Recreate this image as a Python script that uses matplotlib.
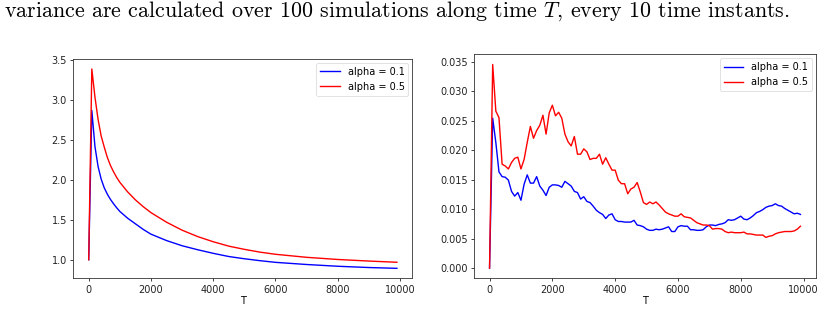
import numpy as np
import matplotlib
matplotlib.use("Agg")
import matplotlib.pyplot as plt

plt.rcParams['mathtext.fontset'] = 'cm'

# ---- Left panel (mean) ----
T_left = [0, 100, 200, 300, 400, 500, 600, 700, 800, 900, 1000, 1250, 1500, 1750,
          2000, 2500, 3000, 3500, 4000, 4500, 5000, 5500, 6000, 7000, 8000, 9000, 9900]
mean_a01 = [1.0, 2.87, 2.42, 2.17, 2.01, 1.90, 1.82, 1.755, 1.70, 1.65, 1.605, 1.52,
            1.45, 1.38, 1.32, 1.24, 1.175, 1.125, 1.08, 1.04, 1.012, 0.988, 0.967,
            0.94, 0.918, 0.902, 0.892]
mean_a05 = [1.0, 3.39, 3.04, 2.76, 2.55, 2.41, 2.28, 2.18, 2.10, 2.03, 1.97, 1.85,
            1.75, 1.665, 1.59, 1.47, 1.37, 1.29, 1.225, 1.17, 1.13, 1.095, 1.068,
            1.03, 1.003, 0.983, 0.968]

# ---- Right panel (variance) ----
T_right = list(range(0, 10000, 100))
var_a01 = [0.0, 0.0254, 0.0213, 0.0163, 0.0155, 0.0154, 0.0149, 0.0130, 0.0122, 0.0128,
           0.0115, 0.0142, 0.0158, 0.0144, 0.0144, 0.0155, 0.0139, 0.0132, 0.0123, 0.0137,
           0.0141, 0.0141, 0.0140, 0.0137, 0.0147, 0.0143, 0.0139, 0.0130, 0.0128, 0.0117,
           0.0121, 0.0113, 0.0111, 0.0105, 0.0098, 0.0094, 0.0091, 0.0084, 0.0090, 0.0092,
           0.0082, 0.0079, 0.0079, 0.0078, 0.0078, 0.0078, 0.0081, 0.0073, 0.0072, 0.0070,
           0.0066, 0.0064, 0.0064, 0.0066, 0.0065, 0.0066, 0.0068, 0.0070, 0.0062, 0.0062,
           0.0070, 0.0072, 0.0071, 0.0071, 0.0065, 0.0065, 0.0064, 0.0064, 0.0065, 0.0070,
           0.0073, 0.0073, 0.0072, 0.0074, 0.0075, 0.0077, 0.0082, 0.0081, 0.0082, 0.0085,
           0.0088, 0.0083, 0.0082, 0.0085, 0.0089, 0.0094, 0.0096, 0.0099, 0.0103, 0.0105,
           0.0106, 0.0109, 0.0106, 0.0105, 0.0101, 0.0098, 0.0095, 0.0092, 0.0093, 0.0091]
var_a05 = [0.0, 0.0345, 0.0266, 0.0255, 0.0176, 0.0173, 0.0168, 0.0179, 0.0186, 0.0188,
           0.0168, 0.0184, 0.0213, 0.0240, 0.0220, 0.0233, 0.0242, 0.0259, 0.0227, 0.0263,
           0.0276, 0.0258, 0.0264, 0.0254, 0.0227, 0.0214, 0.0207, 0.0223, 0.0193, 0.0193,
           0.0202, 0.0197, 0.0184, 0.0186, 0.0186, 0.0193, 0.0176, 0.0187, 0.0176, 0.0166,
           0.0166, 0.0149, 0.0143, 0.0143, 0.0126, 0.0134, 0.0137, 0.0145, 0.0129, 0.0111,
           0.0108, 0.0112, 0.0109, 0.0112, 0.0107, 0.0101, 0.0095, 0.0092, 0.0090, 0.0088,
           0.0088, 0.0092, 0.0087, 0.0086, 0.0085, 0.0081, 0.0077, 0.0075, 0.0073, 0.0073,
           0.0072, 0.0066, 0.0067, 0.0067, 0.0066, 0.0062, 0.0060, 0.0061, 0.0060, 0.0060,
           0.0060, 0.0061, 0.0058, 0.0058, 0.0057, 0.0056, 0.0056, 0.0056, 0.0052, 0.0054,
           0.0055, 0.0058, 0.0060, 0.0061, 0.0062, 0.0062, 0.0062, 0.0063, 0.0066, 0.0071]

labels = ["alpha = 0.1", "alpha = 0.5"]
xlabel = "T"
caption = r"variance are calculated over 100 simulations along time $T$, every 10 time instants."

W, H = 826, 314
fig = plt.figure(figsize=(W / 100, H / 100), dpi=100)

def rect(l, r, t, b):
    return [l / W, 1 - b / H, (r - l) / W, (b - t) / H]

fs = 7.0
ax1 = fig.add_axes(rect(73.3, 412.3, 59, 278.3))
ax2 = fig.add_axes(rect(474, 816, 54.3, 278.3))

ax1.plot(T_left, mean_a01, color='blue', lw=1.0, label=labels[0])
ax1.plot(T_left, mean_a05, color='red', lw=1.0, label=labels[1])
ax2.plot(T_right, var_a01, color='blue', lw=1.0, label=labels[0])
ax2.plot(T_right, var_a05, color='red', lw=1.0, label=labels[1])

ax1.set_yticks([1.0, 1.5, 2.0, 2.5, 3.0, 3.5])
ax2.set_yticks([0.0, 0.005, 0.01, 0.015, 0.02, 0.025, 0.03, 0.035])
ax2.yaxis.set_major_formatter(matplotlib.ticker.FormatStrFormatter('%.3f'))
for ax in (ax1, ax2):
    ax.set_xticks([0, 2000, 4000, 6000, 8000, 10000])
    ax.tick_params(labelsize=fs, length=2.5, width=0.6, pad=2, colors='#222222')
    for s in ax.spines.values():
        s.set_linewidth(0.6)
        s.set_color('#333333')
    ax.set_xlabel(xlabel, fontsize=fs, labelpad=1.0)
    leg = ax.legend(loc='upper right', fontsize=fs, handlelength=2.0,
                    borderaxespad=0.4, framealpha=0.8)
    leg.get_frame().set_linewidth(0.5)

fig.text(4 / W, 1 - 11 / H, caption, fontfamily='cmr10', fontsize=15.8,
         va='center', ha='left')

fig.savefig("out.png", dpi=100)
